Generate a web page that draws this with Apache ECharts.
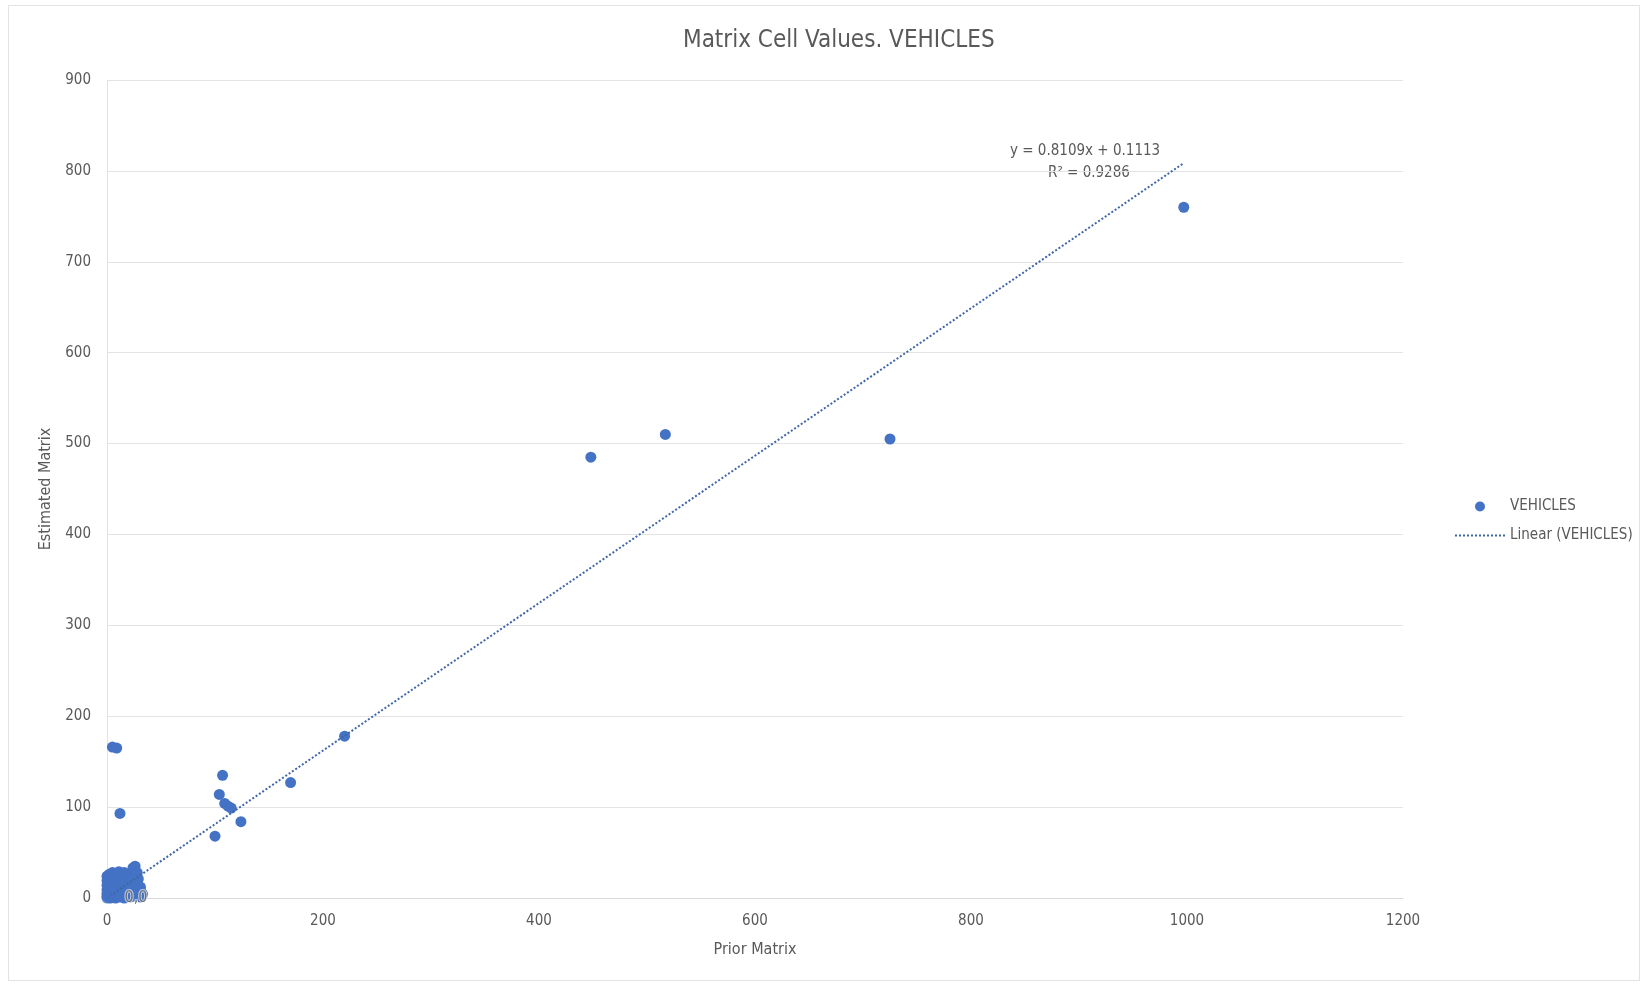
<!DOCTYPE html>
<html>
<head>
<meta charset="utf-8">
<title>Matrix Cell Values. VEHICLES</title>
<script src="https://cdn.jsdelivr.net/npm/echarts@6/dist/echarts.min.js"></script>
<style>
  html, body { margin: 0; padding: 0; background: #ffffff; }
  #frame { position: absolute; left: 8px; top: 5px; width: 1632px; height: 976px; border: 1px solid #e3e3e3; box-sizing: border-box; }
  #chart { width: 1642px; height: 984px; }
</style>
</head>
<body>
<div id="frame"></div>
<div id="chart"></div>
<script>
// Matrix cells: prior value (x) against estimated value (y)
const priorValues = [
  997, 725, 517, 448, 220, 170, 107, 104, 109, 112, 115, 124, 100, 5, 9, 12,
  0, 0, 0, 0, 0, 0, 1, 1, 1, 1, 1, 2, 2, 2, 3, 3, 3, 3, 4, 4, 4, 5, 5, 5, 5,
  6, 6, 6, 7, 7, 7, 8, 8, 8, 8, 9, 9, 10, 10, 10, 11, 11, 12, 12, 12, 13, 13,
  14, 14, 15, 15, 16, 16, 16, 17, 17, 18, 18, 19, 19, 20, 20, 21, 21, 22, 22,
  23, 23, 24, 24, 25, 25, 26, 26, 27, 27, 28, 28, 29, 29, 30, 31, 31, 32, 33
];
const estimatedValues = [
  760, 505, 510, 485, 178, 127, 135, 114, 104, 101, 99, 84, 68, 166, 165, 93,
  2, 5, 9, 14, 19, 24, 1, 7, 12, 17, 22, 3, 26, 10, 0, 6, 15, 20, 2, 11, 25, 4, 8, 17, 28,
  1, 13, 22, 5, 10, 19, 0, 3, 15, 27, 7, 24, 2, 11, 18, 29, 6, 14, 21, 1, 9, 26,
  4, 17, 12, 23, 0, 7, 28, 15, 20, 3, 10, 25, 18, 6, 13, 1, 22, 9, 27,
  16, 4, 33, 20, 11, 2, 35, 25, 7, 17, 14, 28, 3, 21, 9, 12, 1, 6, 4
];
// Origin cell, annotated with its own value
const originCell = [0, 0];

// Linear trend fitted to the series
const trendSlope = 0.8109;
const trendIntercept = 0.1113;
const trendRSquared = 0.9286;

const xTicks = { min: 0, max: 1200, interval: 200 };
const yTicks = { min: 0, max: 900, interval: 100 };

const points = priorValues.map((x, i) => [x, estimatedValues[i]]);
const xMinData = Math.min(...priorValues);
const xMaxData = Math.max(...priorValues);
const trendPoints = [xMinData, xMaxData].map(x => [x, trendSlope * x + trendIntercept]);

const textColor = '#595959';
const fontFamily = '"Liberation Sans Narrow", "DejaVu Sans Condensed", "Noto Sans", sans-serif';
const seriesBlue = '#4472C4';

const chart = echarts.init(document.getElementById('chart'), null, { renderer: 'canvas' });
chart.setOption({
  backgroundColor: 'transparent',
  animation: false,
  textStyle: { fontFamily: fontFamily, color: textColor },
  title: {
    text: 'Matrix Cell Values. VEHICLES',
    left: 678,
    top: 24,
    textStyle: { fontFamily: fontFamily, fontSize: 24, fontWeight: 'normal', color: textColor }
  },
  grid: { left: 107, right: 239, top: 80, bottom: 86 },
  legend: {
    orient: 'vertical',
    left: 1449,
    top: 494,
    itemGap: 14,
    itemWidth: 50,
    itemHeight: 10,
    textStyle: { fontFamily: fontFamily, fontSize: 15, color: textColor },
    data: [
      { name: 'VEHICLES', icon: 'circle' },
      { name: 'Linear (VEHICLES)', itemStyle: { opacity: 0 } }
    ]
  },
  xAxis: {
    type: 'value',
    min: xTicks.min, max: xTicks.max, interval: xTicks.interval,
    name: 'Prior Matrix',
    nameLocation: 'middle',
    nameGap: 44,
    nameTextStyle: { fontFamily: fontFamily, fontSize: 16, color: textColor },
    axisLine: { show: true, lineStyle: { color: '#d9d9d9', width: 1 } },
    axisTick: { show: false },
    splitLine: { show: false },
    axisLabel: { fontFamily: fontFamily, fontSize: 15, color: textColor, margin: 16, formatter: v => String(v) }
  },
  yAxis: {
    type: 'value',
    min: yTicks.min, max: yTicks.max, interval: yTicks.interval,
    name: 'Estimated Matrix',
    nameLocation: 'middle',
    nameGap: 53,
    nameRotate: 90,
    nameTextStyle: { fontFamily: fontFamily, fontSize: 16, color: textColor },
    axisLine: { show: true, lineStyle: { color: '#e3e3e3', width: 1 } },
    axisTick: { show: false },
    splitLine: { show: true, lineStyle: { color: '#e3e3e3', width: 1 } },
    axisLabel: { fontFamily: fontFamily, fontSize: 15, color: textColor, margin: 16, formatter: v => String(v) }
  },
  series: [
    {
      name: 'VEHICLES',
      type: 'scatter',
      symbol: 'circle',
      symbolSize: 11,
      itemStyle: { color: seriesBlue, opacity: 1 },
      data: points,
      z: 3
    },
    {
      name: 'VEHICLES',
      type: 'scatter',
      symbol: 'circle',
      symbolSize: 11,
      itemStyle: { color: seriesBlue },
      data: [originCell],
      label: {
        show: true,
        position: 'right',
        distance: 12,
        formatter: p => p.value[0] + ',' + p.value[1],
        fontFamily: fontFamily,
        fontSize: 16,
        color: textColor,
        textBorderColor: 'rgba(255,255,255,0.8)',
        textBorderWidth: 2
      },
      z: 6
    },
    {
      name: 'Linear (VEHICLES)',
      type: 'line',
      showSymbol: false,
      symbol: 'none',
      data: trendPoints,
      lineStyle: { color: '#3f66a8', width: 2, type: [2, 2] },
      z: 5
    }
  ],
  graphic: [
    {
      type: 'text',
      left: 1090 - 80,
      top: 144,
      style: {
        text: 'y = ' + trendSlope.toFixed(4) + 'x + ' + trendIntercept.toFixed(4),
        fontFamily: fontFamily, fontSize: 15, fill: textColor
      }
    },
    {
      type: 'text',
      left: 1090 - 42,
      top: 166,
      style: {
        text: 'R² = ' + trendRSquared.toFixed(4),
        fontFamily: fontFamily, fontSize: 15, fill: textColor
      }
    }
  ]
});
</script>
</body>
</html>
